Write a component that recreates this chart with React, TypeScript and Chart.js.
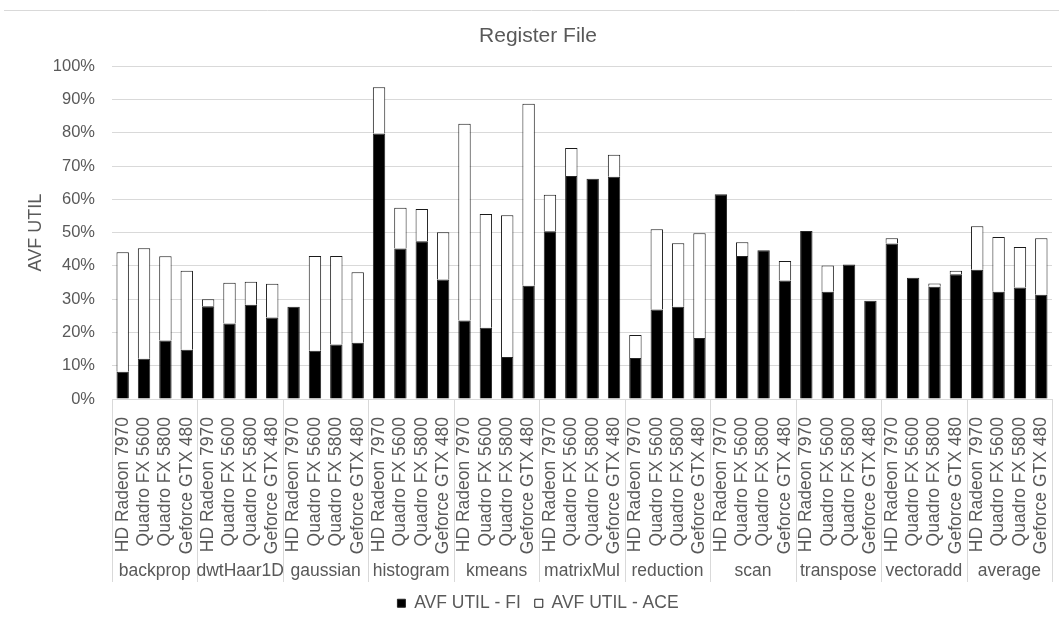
import React, { useEffect, useRef } from 'react';
import { Chart, registerables } from 'chart.js';

Chart.register(...registerables);

const gpus = ['HD Radeon 7970', 'Quadro FX 5600', 'Quadro FX 5800', 'Geforce GTX 480'];
const benchmarks = ['backprop', 'dwtHaar1D', 'gaussian', 'histogram', 'kmeans', 'matrixMul', 'reduction', 'scan', 'transpose', 'vectoradd', 'average'];

// AVF UTIL - FI (percent), 4 GPUs per benchmark
const fiValues = [
  8.2, 12.1, 17.6, 14.8,
  27.9, 22.7, 28.3, 24.5,
  27.7, 14.5, 16.4, 16.9,
  79.8, 45.2, 47.4, 35.9,
  23.6, 21.4, 12.6, 34.0,
  50.4, 67.0, 66.2, 66.8,
  12.3, 26.9, 27.7, 18.3,
  61.5, 43.0, 44.7, 35.6,
  50.5, 32.2, 40.4, 29.5,
  46.7, 36.4, 33.7, 37.5,
  38.8, 32.2, 33.5, 31.3,
];

// AVF UTIL - ACE (percent, stacked on top of FI)
const aceValues = [
  35.9, 33.2, 25.3, 23.7,
  2.1, 12.2, 6.9, 10.1,
  0, 28.5, 26.6, 21.2,
  13.9, 12.3, 9.7, 14.2,
  59.1, 34.2, 42.6, 54.7,
  11.0, 8.4, 0, 6.6,
  6.9, 24.1, 19.1, 31.5,
  0, 4.1, 0, 5.9,
  0, 7.9, 0, 0,
  1.6, 0, 1.0, 1.0,
  13.1, 16.5, 12.2, 17.0,
];

const yTicks = [0, 10, 20, 30, 40, 50, 60, 70, 80, 90, 100];

const FONT = '"Liberation Sans", Arial, sans-serif';
const TEXT = '#595959';
const GRID = '#d9d9d9';

const groupPlugin = {
  id: 'groupLabels',
  afterDraw(chart: any) {
    const { ctx, chartArea } = chart;
    const x = chart.scales.x;
    const n = gpus.length;
    const half = (x.getPixelForValue(1) - x.getPixelForValue(0)) / 2;
    ctx.save();
    // top border line of the chart frame
    ctx.strokeStyle = GRID;
    ctx.lineWidth = 1;
    ctx.beginPath();
    ctx.moveTo(4, 10.5);
    ctx.lineTo(chart.width, 10.5);
    ctx.stroke();
    // separators between benchmark groups
    const yTop = chartArea.bottom;
    const yBot = 582;
    for (let g = 0; g <= benchmarks.length; g++) {
      const px = Math.round(x.getPixelForValue(g * n) - half) + 0.5;
      ctx.beginPath();
      ctx.moveTo(px, yTop);
      ctx.lineTo(px, yBot);
      ctx.stroke();
    }
    // group labels
    ctx.fillStyle = TEXT;
    ctx.font = `17.5px ${FONT}`;
    ctx.textAlign = 'center';
    ctx.textBaseline = 'middle';
    benchmarks.forEach((b, g) => {
      const cx = (x.getPixelForValue(g * n) + x.getPixelForValue(g * n + n - 1)) / 2;
      ctx.fillText(b, cx, 571);
    });
    ctx.restore();
  },
};

export default function App() {
  const ref = useRef<HTMLCanvasElement>(null);

  useEffect(() => {
    document.body.style.margin = '0';
    const labels = benchmarks.flatMap(() => gpus);
    const chart = new Chart(ref.current!, {
      type: 'bar',
      data: {
        labels,
        datasets: [
          {
            label: 'AVF UTIL - FI',
            data: fiValues,
            backgroundColor: '#000000',
            borderColor: '#262626',
            borderWidth: 1,
            categoryPercentage: 1,
            barPercentage: 0.58,
          },
          {
            label: 'AVF UTIL - ACE',
            data: aceValues,
            backgroundColor: '#ffffff',
            borderColor: '#1a1a1a',
            borderWidth: 1,
            categoryPercentage: 1,
            barPercentage: 0.58,
          },
        ],
      },
      options: {
        animation: false,
        responsive: true,
        maintainAspectRatio: false,
        layout: { padding: { left: 24, right: 7, top: 0, bottom: 0 } },
        plugins: {
          title: {
            display: true,
            text: 'Register File',
            color: TEXT,
            font: { size: 21, family: FONT, weight: 'normal' },
            padding: { top: 23.5, bottom: 17.5 },
          },
          legend: {
            position: 'bottom',
            maxHeight: 38.5,
            labels: {
              boxWidth: 8,
              boxHeight: 8,
              color: TEXT,
              font: { size: 17.5, family: FONT },
              padding: 14,
            },
          },
          tooltip: { enabled: false },
        },
        scales: {
          x: {
            stacked: true,
            grid: { display: false },
            border: { display: false },
            ticks: {
              autoSkip: false,
              maxRotation: 90,
              minRotation: 90,
              padding: 10,
              color: TEXT,
              font: { size: 17.5, family: FONT },
            },
            afterFit: (s: any) => {
              s.height = 181.5;
              s.paddingLeft = 0;
              s.paddingRight = 0;
            },
          },
          y: {
            stacked: true,
            min: 0,
            max: 100,
            afterBuildTicks: (s: any) => {
              s.ticks = yTicks.map((v) => ({ value: v }));
            },
            ticks: {
              callback: (v: any) => v + '%',
              padding: 17,
              color: TEXT,
              font: { size: 16.5, family: FONT },
            },
            grid: { color: GRID, drawTicks: false, lineWidth: 1 },
            border: { display: false },
            title: {
              display: true,
              text: 'AVF UTIL',
              color: TEXT,
              font: { size: 18, family: FONT },
              padding: { top: 1, bottom: 0 },
            },
            afterFit: (s: any) => {
              s.width = 88;
            },
          },
        },
      },
      plugins: [groupPlugin],
    });
    return () => chart.destroy();
  }, []);

  return (
    <div style={{ width: 1059, height: 619, position: 'relative' }}>
      <canvas ref={ref} />
    </div>
  );
}
